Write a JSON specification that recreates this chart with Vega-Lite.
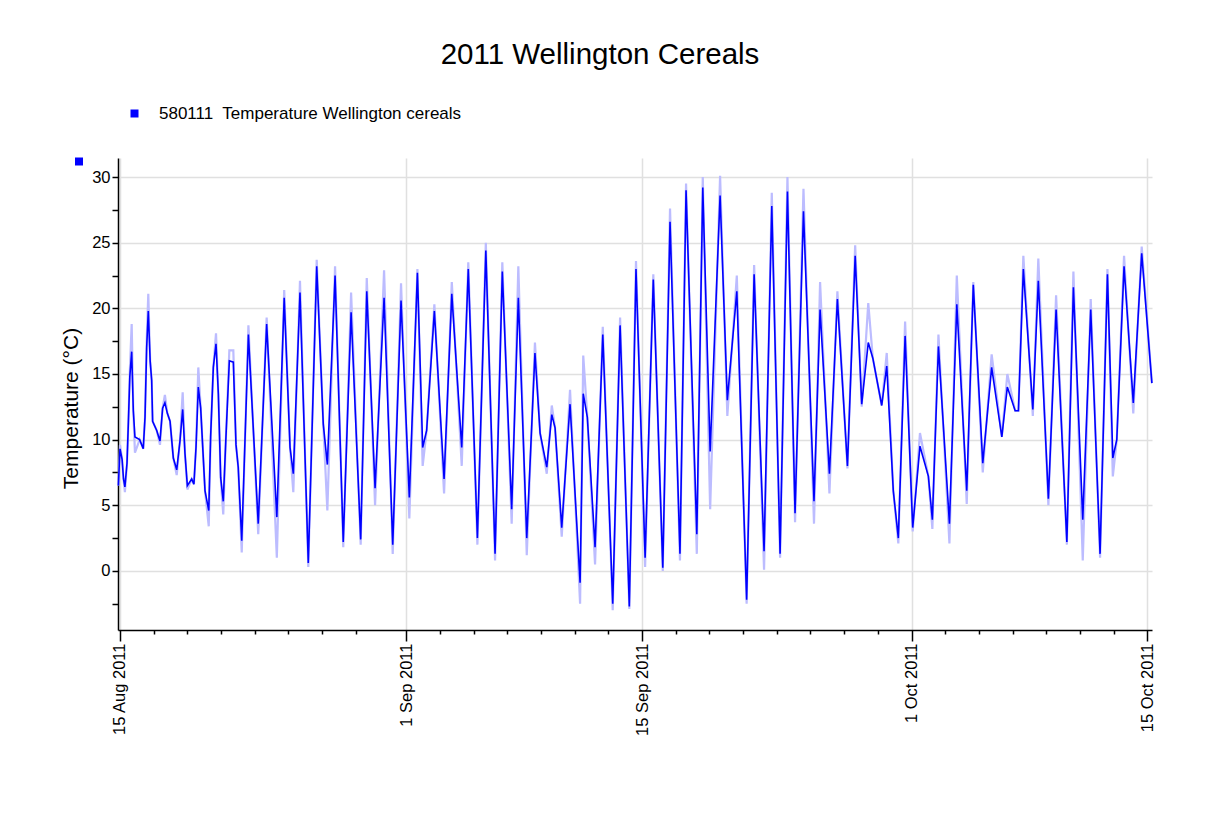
{
  "$schema": "https://vega.github.io/schema/vega-lite/v6.json",
  "width": 1034,
  "height": 472,
  "autosize": {"type": "none"},
  "padding": {"left": 118, "top": 158, "right": 68, "bottom": 184},
  "background": "white",
  "config": {
    "view": {"stroke": null},
    "font": "Liberation Sans",
    "axis": {"labelFont": "Liberation Sans", "titleFont": "Liberation Sans"},
    "legend": {"labelFont": "Liberation Sans"}
  },
  "title": {
    "text": "2011 Wellington Cereals",
    "font": "Liberation Sans",
    "fontSize": 29.5,
    "fontWeight": "normal",
    "color": "black",
    "anchor": "middle",
    "dx": -35,
    "offset": 35
  },
  "data": {
    "values": [
      {"t": "2011-08-14T21:40", "v": 6.5, "l": 6.5},
      {"t": "2011-08-15T00:00", "v": 9.3, "l": 9.6},
      {"t": "2011-08-15T03:00", "v": 8.5, "l": 8.5},
      {"t": "2011-08-15T05:00", "v": 7.0, "l": 7.0},
      {"t": "2011-08-15T07:00", "v": 6.4, "l": 6.0},
      {"t": "2011-08-15T10:00", "v": 8.2, "l": 8.2},
      {"t": "2011-08-15T12:00", "v": 11.4, "l": 11.4},
      {"t": "2011-08-15T14:00", "v": 14.8, "l": 15.2},
      {"t": "2011-08-15T16:40", "v": 16.7, "l": 18.8},
      {"t": "2011-08-15T19:00", "v": 12.2, "l": 12.2},
      {"t": "2011-08-15T21:20", "v": 10.2, "l": 9.0},
      {"t": "2011-08-16T04:00", "v": 10.0, "l": 10.0},
      {"t": "2011-08-16T09:10", "v": 9.3, "l": 9.3},
      {"t": "2011-08-16T11:40", "v": 11.7, "l": 11.7},
      {"t": "2011-08-16T14:00", "v": 17.0, "l": 17.5},
      {"t": "2011-08-16T16:20", "v": 19.8, "l": 21.1},
      {"t": "2011-08-16T19:00", "v": 16.0, "l": 16.0},
      {"t": "2011-08-16T21:10", "v": 14.5, "l": 14.5},
      {"t": "2011-08-16T22:30", "v": 11.4, "l": 11.4},
      {"t": "2011-08-17T04:20", "v": 10.7, "l": 10.7},
      {"t": "2011-08-17T09:00", "v": 9.9, "l": 9.6},
      {"t": "2011-08-17T12:45", "v": 12.4, "l": 12.4},
      {"t": "2011-08-17T16:00", "v": 12.8, "l": 13.4},
      {"t": "2011-08-17T19:30", "v": 12.0, "l": 12.0},
      {"t": "2011-08-17T23:20", "v": 11.4, "l": 11.4},
      {"t": "2011-08-18T04:00", "v": 8.6, "l": 8.6},
      {"t": "2011-08-18T08:50", "v": 7.7, "l": 7.3},
      {"t": "2011-08-18T13:30", "v": 9.9, "l": 9.9},
      {"t": "2011-08-18T17:20", "v": 12.3, "l": 13.6},
      {"t": "2011-08-18T20:40", "v": 8.9, "l": 8.9},
      {"t": "2011-08-19T00:00", "v": 6.5, "l": 6.2},
      {"t": "2011-08-19T06:10", "v": 7.0, "l": 7.0},
      {"t": "2011-08-19T09:20", "v": 6.6, "l": 6.6},
      {"t": "2011-08-19T12:20", "v": 9.4, "l": 9.4},
      {"t": "2011-08-19T15:36", "v": 14.0, "l": 15.5},
      {"t": "2011-08-19T19:00", "v": 12.4, "l": 12.4},
      {"t": "2011-08-20T01:10", "v": 6.1, "l": 6.1},
      {"t": "2011-08-20T06:30", "v": 4.6, "l": 3.4},
      {"t": "2011-08-20T09:10", "v": 10.2, "l": 10.2},
      {"t": "2011-08-20T13:00", "v": 15.5, "l": 15.5},
      {"t": "2011-08-20T16:50", "v": 17.3, "l": 18.1},
      {"t": "2011-08-20T20:10", "v": 13.5, "l": 13.5},
      {"t": "2011-08-20T23:30", "v": 7.1, "l": 7.1},
      {"t": "2011-08-21T03:10", "v": 5.3, "l": 4.3},
      {"t": "2011-08-21T07:00", "v": 10.2, "l": 10.2},
      {"t": "2011-08-21T11:50", "v": 16.0, "l": 16.8},
      {"t": "2011-08-21T17:30", "v": 15.9, "l": 16.8},
      {"t": "2011-08-21T21:20", "v": 9.6, "l": 9.6},
      {"t": "2011-08-22T00:30", "v": 7.9, "l": 7.9},
      {"t": "2011-08-22T05:30", "v": 2.3, "l": 1.4},
      {"t": "2011-08-22T15:00", "v": 18.0, "l": 18.7},
      {"t": "2011-08-23T05:00", "v": 3.6, "l": 2.8},
      {"t": "2011-08-23T17:00", "v": 18.8, "l": 19.3},
      {"t": "2011-08-24T07:30", "v": 4.1, "l": 1.0},
      {"t": "2011-08-24T18:00", "v": 20.8, "l": 21.4},
      {"t": "2011-08-25T02:20", "v": 9.4, "l": 9.4},
      {"t": "2011-08-25T07:00", "v": 7.4, "l": 6.0},
      {"t": "2011-08-25T16:30", "v": 21.2, "l": 22.1},
      {"t": "2011-08-26T04:20", "v": 0.6, "l": 0.3},
      {"t": "2011-08-26T16:20", "v": 23.2, "l": 23.7},
      {"t": "2011-08-27T01:40", "v": 11.2, "l": 11.2},
      {"t": "2011-08-27T07:30", "v": 8.1, "l": 4.6},
      {"t": "2011-08-27T18:30", "v": 22.5, "l": 23.2},
      {"t": "2011-08-28T06:10", "v": 2.2, "l": 1.8},
      {"t": "2011-08-28T17:20", "v": 19.7, "l": 21.2},
      {"t": "2011-08-29T07:00", "v": 2.4, "l": 2.0},
      {"t": "2011-08-29T15:40", "v": 21.3, "l": 22.3},
      {"t": "2011-08-30T03:30", "v": 6.3, "l": 5.0},
      {"t": "2011-08-30T16:20", "v": 20.8, "l": 22.9},
      {"t": "2011-08-31T04:40", "v": 2.0, "l": 1.3},
      {"t": "2011-08-31T16:30", "v": 20.6, "l": 21.9},
      {"t": "2011-09-01T04:20", "v": 5.6, "l": 4.0},
      {"t": "2011-09-01T15:50", "v": 22.7, "l": 23.0},
      {"t": "2011-09-01T23:20", "v": 9.4, "l": 8.0},
      {"t": "2011-09-02T05:00", "v": 10.7, "l": 10.7},
      {"t": "2011-09-02T16:00", "v": 19.8, "l": 20.3},
      {"t": "2011-09-03T05:50", "v": 7.0, "l": 5.9},
      {"t": "2011-09-03T16:50", "v": 21.1, "l": 22.0},
      {"t": "2011-09-04T07:00", "v": 9.4, "l": 8.0},
      {"t": "2011-09-04T16:20", "v": 23.0, "l": 23.5},
      {"t": "2011-09-05T05:20", "v": 2.5, "l": 2.0},
      {"t": "2011-09-05T17:20", "v": 24.4, "l": 25.0},
      {"t": "2011-09-06T06:30", "v": 1.3, "l": 0.8},
      {"t": "2011-09-06T16:50", "v": 22.8, "l": 23.5},
      {"t": "2011-09-07T06:10", "v": 4.7, "l": 3.6},
      {"t": "2011-09-07T15:40", "v": 20.8, "l": 23.2},
      {"t": "2011-09-08T03:40", "v": 2.5, "l": 1.2},
      {"t": "2011-09-08T15:20", "v": 16.6, "l": 17.4},
      {"t": "2011-09-08T22:40", "v": 10.5, "l": 10.5},
      {"t": "2011-09-09T08:10", "v": 7.9, "l": 7.4},
      {"t": "2011-09-09T15:20", "v": 11.9, "l": 12.6},
      {"t": "2011-09-09T20:00", "v": 10.9, "l": 10.9},
      {"t": "2011-09-10T05:30", "v": 3.3, "l": 2.6},
      {"t": "2011-09-10T17:20", "v": 12.7, "l": 13.8},
      {"t": "2011-09-11T07:40", "v": -0.9, "l": -2.5},
      {"t": "2011-09-11T12:10", "v": 13.5, "l": 16.4},
      {"t": "2011-09-11T18:00", "v": 11.7, "l": 11.7},
      {"t": "2011-09-12T05:00", "v": 1.8, "l": 0.5},
      {"t": "2011-09-12T16:00", "v": 18.0, "l": 18.6},
      {"t": "2011-09-13T06:10", "v": -2.5, "l": -3.0},
      {"t": "2011-09-13T16:40", "v": 18.7, "l": 19.3},
      {"t": "2011-09-14T05:50", "v": -2.7, "l": -2.9},
      {"t": "2011-09-14T15:20", "v": 23.0, "l": 23.6},
      {"t": "2011-09-15T04:20", "v": 1.0, "l": 0.3},
      {"t": "2011-09-15T16:00", "v": 22.2, "l": 22.6},
      {"t": "2011-09-16T05:30", "v": 0.25, "l": 0.0},
      {"t": "2011-09-16T15:50", "v": 26.6, "l": 27.6},
      {"t": "2011-09-17T06:00", "v": 1.3, "l": 0.8},
      {"t": "2011-09-17T14:40", "v": 29.0, "l": 29.5},
      {"t": "2011-09-18T06:00", "v": 2.8, "l": 1.3},
      {"t": "2011-09-18T14:30", "v": 29.2, "l": 30.0},
      {"t": "2011-09-19T01:00", "v": 9.1, "l": 4.7},
      {"t": "2011-09-19T15:10", "v": 28.6, "l": 30.1},
      {"t": "2011-09-20T01:30", "v": 13.0, "l": 11.8},
      {"t": "2011-09-20T15:00", "v": 21.3, "l": 22.5},
      {"t": "2011-09-21T05:00", "v": -2.2, "l": -2.5},
      {"t": "2011-09-21T15:40", "v": 22.6, "l": 23.3},
      {"t": "2011-09-22T05:50", "v": 1.5, "l": 0.1},
      {"t": "2011-09-22T16:50", "v": 27.8, "l": 28.8},
      {"t": "2011-09-23T04:40", "v": 1.3, "l": 1.0},
      {"t": "2011-09-23T15:10", "v": 28.9, "l": 30.0},
      {"t": "2011-09-24T02:00", "v": 4.4, "l": 3.7},
      {"t": "2011-09-24T14:00", "v": 27.4, "l": 29.1},
      {"t": "2011-09-25T05:00", "v": 5.3, "l": 3.6},
      {"t": "2011-09-25T13:40", "v": 19.9, "l": 22.0},
      {"t": "2011-09-26T03:00", "v": 7.4, "l": 5.9},
      {"t": "2011-09-26T14:20", "v": 20.7, "l": 21.3},
      {"t": "2011-09-27T04:40", "v": 8.0, "l": 7.8},
      {"t": "2011-09-27T15:40", "v": 24.0, "l": 24.8},
      {"t": "2011-09-28T01:00", "v": 12.7, "l": 12.5},
      {"t": "2011-09-28T10:20", "v": 17.4, "l": 20.4},
      {"t": "2011-09-28T16:50", "v": 16.2, "l": 16.2},
      {"t": "2011-09-29T05:30", "v": 12.6, "l": 12.6},
      {"t": "2011-09-29T12:40", "v": 15.6, "l": 16.6},
      {"t": "2011-09-29T22:00", "v": 6.1, "l": 6.1},
      {"t": "2011-09-30T05:10", "v": 2.5, "l": 2.1},
      {"t": "2011-09-30T14:50", "v": 17.9, "l": 19.0},
      {"t": "2011-10-01T01:40", "v": 3.3, "l": 3.0},
      {"t": "2011-10-01T12:00", "v": 9.5, "l": 10.5},
      {"t": "2011-10-02T00:00", "v": 7.2, "l": 7.2},
      {"t": "2011-10-02T05:40", "v": 3.9, "l": 3.2},
      {"t": "2011-10-02T14:20", "v": 17.1, "l": 18.0},
      {"t": "2011-10-03T06:00", "v": 3.6, "l": 2.1},
      {"t": "2011-10-03T16:30", "v": 20.3, "l": 22.5},
      {"t": "2011-10-04T06:40", "v": 6.1, "l": 5.1},
      {"t": "2011-10-04T16:00", "v": 21.8, "l": 22.0},
      {"t": "2011-10-05T05:30", "v": 8.2, "l": 7.5},
      {"t": "2011-10-05T18:10", "v": 15.5, "l": 16.5},
      {"t": "2011-10-06T08:40", "v": 10.2, "l": 10.2},
      {"t": "2011-10-06T16:30", "v": 14.0, "l": 15.0},
      {"t": "2011-10-07T03:40", "v": 12.2, "l": 12.2},
      {"t": "2011-10-07T08:20", "v": 12.2, "l": 12.2},
      {"t": "2011-10-07T15:20", "v": 23.0, "l": 24.0},
      {"t": "2011-10-08T04:50", "v": 12.3, "l": 11.8},
      {"t": "2011-10-08T12:40", "v": 22.1, "l": 23.8},
      {"t": "2011-10-09T03:00", "v": 5.5, "l": 5.0},
      {"t": "2011-10-09T14:00", "v": 19.9, "l": 21.0},
      {"t": "2011-10-10T05:20", "v": 2.2, "l": 2.0},
      {"t": "2011-10-10T14:40", "v": 21.6, "l": 22.8},
      {"t": "2011-10-11T04:00", "v": 3.9, "l": 0.8},
      {"t": "2011-10-11T15:20", "v": 19.9, "l": 20.7},
      {"t": "2011-10-12T04:40", "v": 1.3, "l": 1.0},
      {"t": "2011-10-12T15:10", "v": 22.6, "l": 23.0},
      {"t": "2011-10-12T22:50", "v": 8.6, "l": 7.2},
      {"t": "2011-10-13T04:30", "v": 10.0, "l": 10.0},
      {"t": "2011-10-13T14:50", "v": 23.2, "l": 24.0},
      {"t": "2011-10-14T04:00", "v": 12.8, "l": 12.0},
      {"t": "2011-10-14T16:00", "v": 24.2, "l": 24.7},
      {"t": "2011-10-15T06:30", "v": 14.3, "l": 14.3}
    ]
  },
  "resolve": {"axis": {"x": "independent", "y": "independent"}},
  "layer": [
    {
      "mark": {"type": "line", "interpolate": "linear", "stroke": "#bcbcff", "strokeWidth": 2.2},
      "encoding": {
        "x": {
          "field": "t",
          "type": "temporal",
          "scale": {"domain": [{"year": 2011, "month": 8, "date": 14, "hours": 21, "minutes": 10}, {"year": 2011, "month": 10, "date": 15, "hours": 6, "minutes": 40}]},
          "axis": {
            "orient": "bottom",
            "values": [
              {"year": 2011, "month": 8, "date": 17}, {"year": 2011, "month": 8, "date": 19}, {"year": 2011, "month": 8, "date": 21},
              {"year": 2011, "month": 8, "date": 23}, {"year": 2011, "month": 8, "date": 25}, {"year": 2011, "month": 8, "date": 27},
              {"year": 2011, "month": 8, "date": 29},
              {"year": 2011, "month": 9, "date": 3}, {"year": 2011, "month": 9, "date": 5}, {"year": 2011, "month": 9, "date": 7},
              {"year": 2011, "month": 9, "date": 9}, {"year": 2011, "month": 9, "date": 11}, {"year": 2011, "month": 9, "date": 13},
              {"year": 2011, "month": 9, "date": 17}, {"year": 2011, "month": 9, "date": 19}, {"year": 2011, "month": 9, "date": 21},
              {"year": 2011, "month": 9, "date": 23}, {"year": 2011, "month": 9, "date": 25}, {"year": 2011, "month": 9, "date": 27},
              {"year": 2011, "month": 9, "date": 29},
              {"year": 2011, "month": 10, "date": 3}, {"year": 2011, "month": 10, "date": 5}, {"year": 2011, "month": 10, "date": 7},
              {"year": 2011, "month": 10, "date": 9}, {"year": 2011, "month": 10, "date": 11}, {"year": 2011, "month": 10, "date": 13}
            ],
            "labels": false,
            "grid": false,
            "domain": false,
            "title": null,
            "tickSize": 4,
            "tickWidth": 1.5,
            "tickColor": "black"
          }
        },
        "y": {
          "field": "l",
          "type": "quantitative",
          "scale": {"domain": [-4.5, 31.45], "nice": false, "zero": false},
          "axis": {
            "orient": "left",
            "values": [-2.5, 2.5, 7.5, 12.5, 17.5, 22.5, 27.5],
            "labels": false,
            "grid": false,
            "domain": false,
            "title": null,
            "tickSize": 6,
            "tickWidth": 1.5,
            "tickColor": "black"
          }
        }
      }
    },
    {
      "mark": {"type": "line", "interpolate": "linear", "strokeWidth": 1.6},
      "encoding": {
        "x": {
          "field": "t",
          "type": "temporal",
          "axis": {
            "orient": "bottom",
            "values": [
              {"year": 2011, "month": 8, "date": 15}, {"year": 2011, "month": 9, "date": 1}, {"year": 2011, "month": 9, "date": 15},
              {"year": 2011, "month": 10, "date": 1}, {"year": 2011, "month": 10, "date": 15}
            ],
            "format": "%-d %b %Y",
            "labelAngle": -90,
            "labelFontSize": 16.5,
            "labelColor": "black",
            "labelPadding": 2,
            "tickSize": 11,
            "tickWidth": 1.5,
            "tickColor": "black",
            "domainColor": "black",
            "domainWidth": 1.5,
            "grid": true,
            "gridColor": "#e0e0e0",
            "gridWidth": 1.5,
            "title": null
          }
        },
        "y": {
          "field": "v",
          "type": "quantitative",
          "axis": {
            "orient": "left",
            "values": [0, 5, 10, 15, 20, 25, 30],
            "labelFontSize": 16.5,
            "labelColor": "black",
            "labelPadding": 2,
            "tickSize": 6,
            "tickWidth": 1.5,
            "tickColor": "black",
            "domainColor": "black",
            "domainWidth": 1.5,
            "grid": true,
            "gridColor": "#e0e0e0",
            "gridWidth": 1.5,
            "title": "Temperature (°C)",
            "titleFontSize": 21,
            "titleFontWeight": "normal",
            "titleColor": "black",
            "titleAlign": "center",
            "titleBaseline": "middle",
            "titleX": -47,
            "titleY": 250
          }
        },
        "color": {
          "datum": "580111\u00a0 Temperature Wellington cereals",
          "scale": {"range": ["#0000ff"]},
          "legend": {
            "title": null,
            "orient": "none",
            "legendX": 8,
            "legendY": -53,
            "padding": 0,
            "symbolType": "square",
            "symbolSize": 64,
            "symbolFillColor": "#0000ff",
            "symbolStrokeWidth": 0,
            "labelFontSize": 17,
            "labelColor": "black",
            "labelOffset": 16,
            "labelLimit": 0
          }
        }
      }
    },
    {
      "transform": [{"filter": "datum.v > 100"}],
      "mark": {"type": "point", "filled": true, "color": "#0000ff"},
      "encoding": {
        "x": {"field": "t", "type": "temporal", "axis": null},
        "y": {"field": "v", "type": "quantitative", "axis": null},
        "shape": {
          "datum": "axis",
          "scale": {"range": ["square"]},
          "legend": {
            "title": null,
            "orient": "none",
            "legendX": -43,
            "legendY": -0.5,
            "padding": 0,
            "symbolType": "square",
            "symbolSize": 64,
            "symbolFillColor": "#0000ff",
            "symbolStrokeColor": "#0000ff",
            "symbolStrokeWidth": 0,
            "symbolOpacity": 1,
            "labelExpr": "''",
            "labelFontSize": 8
          }
        }
      }
    }
  ]
}
